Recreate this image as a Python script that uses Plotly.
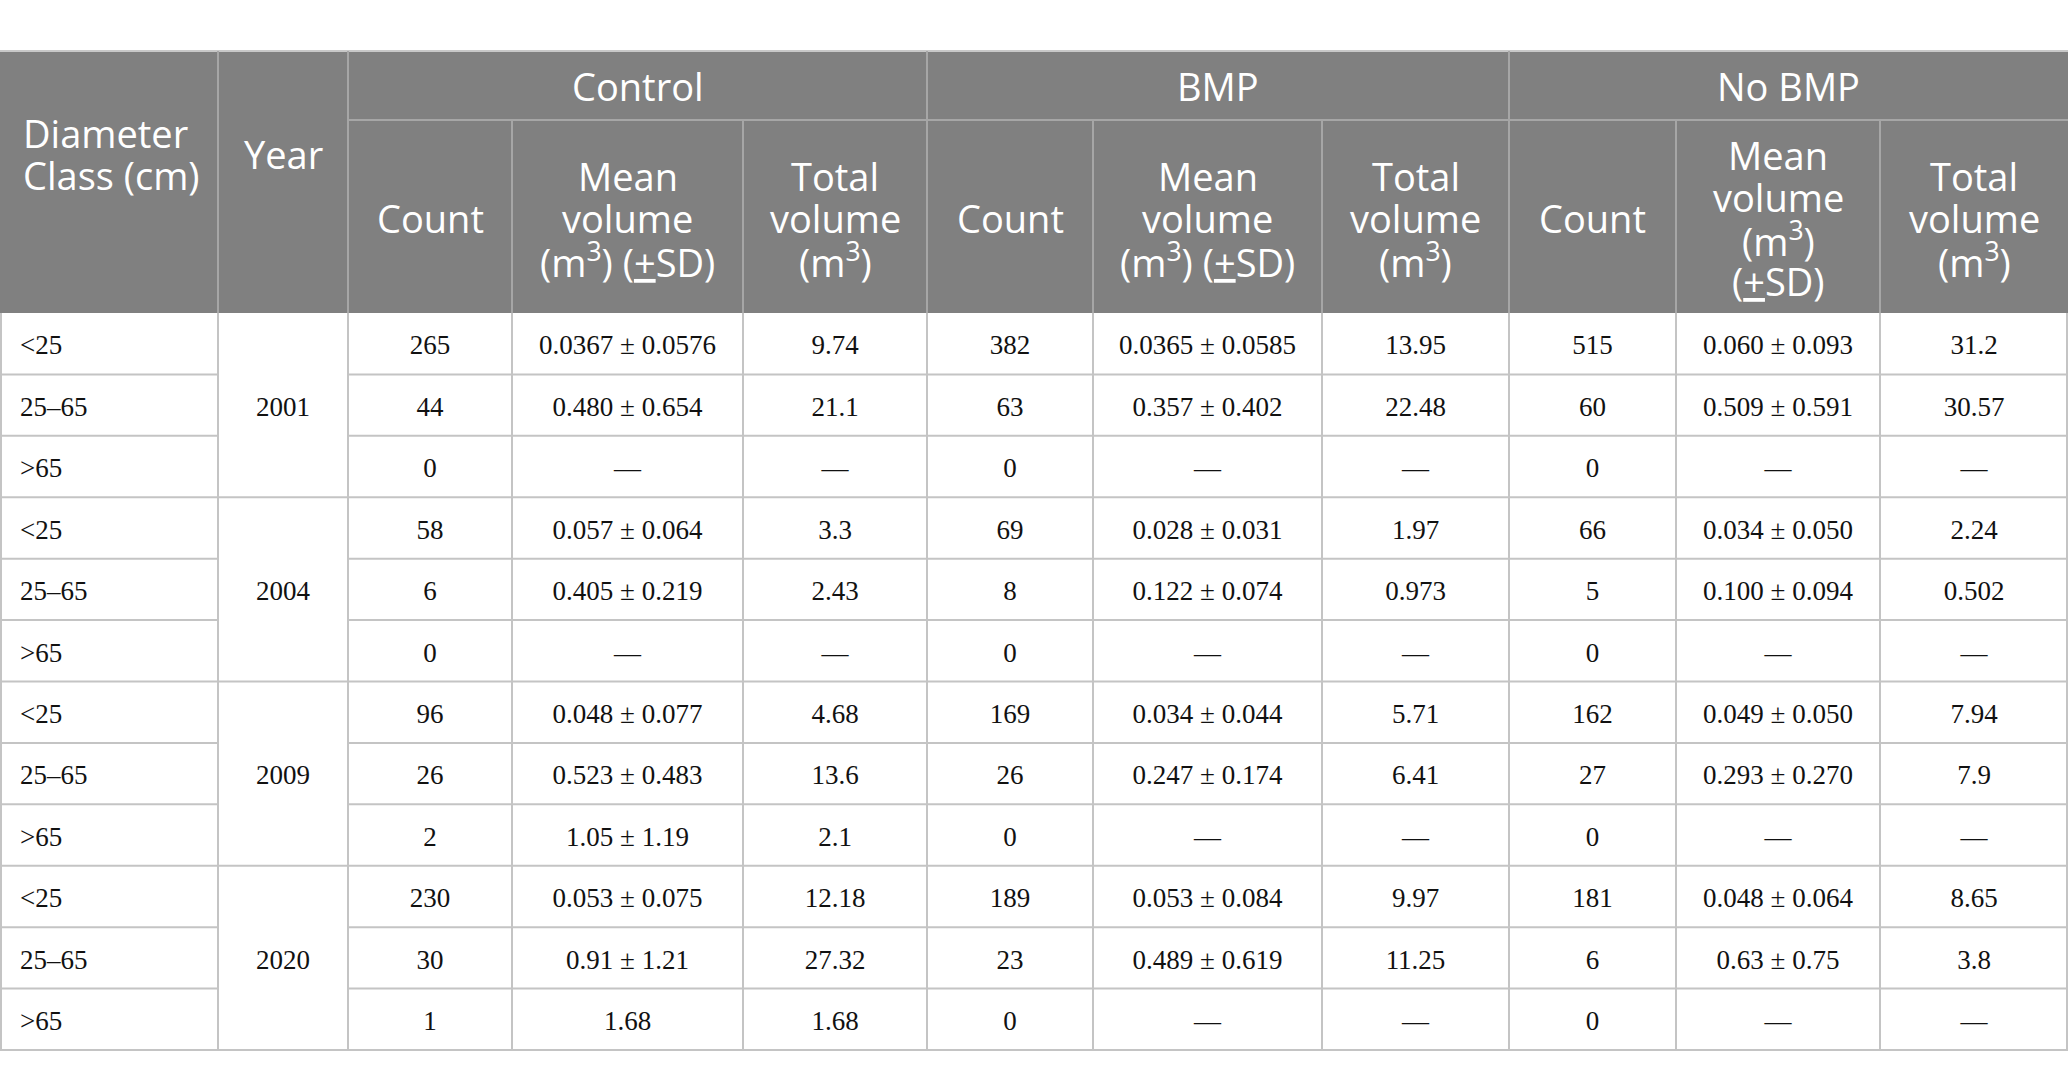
import plotly.graph_objects as go

# DATA
years = ["2001", "2004", "2009", "2020"]
classes = ["<25", "25–65", ">65"] * 4
groups = ["Control", "BMP", "No BMP"]

control_count = [265, 44, 0, 58, 6, 0, 96, 26, 2, 230, 30, 1]
control_mean = ["0.0367 ± 0.0576", "0.480 ± 0.654", "—", "0.057 ± 0.064", "0.405 ± 0.219", "—",
                "0.048 ± 0.077", "0.523 ± 0.483", "1.05 ± 1.19", "0.053 ± 0.075", "0.91 ± 1.21", "1.68"]
control_total = ["9.74", "21.1", "—", "3.3", "2.43", "—", "4.68", "13.6", "2.1", "12.18", "27.32", "1.68"]

bmp_count = [382, 63, 0, 69, 8, 0, 169, 26, 0, 189, 23, 0]
bmp_mean = ["0.0365 ± 0.0585", "0.357 ± 0.402", "—", "0.028 ± 0.031", "0.122 ± 0.074", "—",
            "0.034 ± 0.044", "0.247 ± 0.174", "—", "0.053 ± 0.084", "0.489 ± 0.619", "—"]
bmp_total = ["13.95", "22.48", "—", "1.97", "0.973", "—", "5.71", "6.41", "—", "9.97", "11.25", "—"]

nobmp_count = [515, 60, 0, 66, 5, 0, 162, 27, 0, 181, 6, 0]
nobmp_mean = ["0.060 ± 0.093", "0.509 ± 0.591", "—", "0.034 ± 0.050", "0.100 ± 0.094", "—",
              "0.049 ± 0.050", "0.293 ± 0.270", "—", "0.048 ± 0.064", "0.63 ± 0.75", "—"]
nobmp_total = ["31.2", "30.57", "—", "2.24", "0.502", "—", "7.94", "7.9", "—", "8.65", "3.8", "—"]

sub_headers = ["Count", "Mean<br>volume<br>(m<sup>3</sup>) (<u>+</u>SD)", "Total<br>volume<br>(m<sup>3</sup>)",
               "Count", "Mean<br>volume<br>(m<sup>3</sup>) (<u>+</u>SD)", "Total<br>volume<br>(m<sup>3</sup>)",
               "Count", "Mean<br>volume<br>(m<sup>3</sup>)<br>(<u>+</u>SD)", "Total<br>volume<br>(m<sup>3</sup>)"]

# LAYOUT CONSTANTS (pixels)
W, H = 2068, 1068
edges = [0, 218, 348, 512, 743, 927, 1093, 1322, 1509, 1676, 1880, 2068]
top, mid, head_bot, bot = 51, 120, 313, 1050
n_rows = len(classes)
rh = (bot - head_bot) / n_rows
LINE_H = 42
TEXT_DY = 4  # scatter text sits a little high; nudge it down

HEAD_BG = "#808080"
HEAD_LINE = "#a6a6a6"
BODY_LINE = "#c4c4c4"
HEAD_FONT = dict(family="Open Sans", size=38, color="white")
BODY_FONT = dict(family="Liberation Serif", size=27, color="#111111")

shapes = []
annotations = []


def line(x0, y0, x1, y1, color):
    shapes.append(dict(type="line", xref="x", yref="y", x0=x0, y0=y0, x1=x1, y1=y1,
                       line=dict(color=color, width=2), layer="above"))


def head_text(x, yc, text, anchor="center"):
    # one annotation per line so the line spacing can be kept tight
    parts = text.split("<br>")
    n = len(parts)
    for k, p in enumerate(parts):
        annotations.append(dict(x=x, y=yc + (k - (n - 1) / 2) * LINE_H, text=p, showarrow=False,
                                xanchor=anchor, yanchor="middle", font=HEAD_FONT))


# header background
shapes.append(dict(type="rect", xref="x", yref="y", x0=0, x1=W, y0=top, y1=head_bot,
                   fillcolor=HEAD_BG, line=dict(width=0), layer="below"))

# header borders
line(0, top, W, top, "#c8c8c8")
line(edges[2], mid, W, mid, HEAD_LINE)
for i in [1, 2, 5, 8]:
    line(edges[i], top, edges[i], head_bot, HEAD_LINE)
for i in [3, 4, 6, 7, 9, 10]:
    line(edges[i], mid, edges[i], head_bot, HEAD_LINE)

# body borders
for r in range(1, n_rows):
    y = head_bot + r * rh
    if r % 3 == 0:
        line(0, y, W, y, BODY_LINE)
    else:
        line(edges[0], y, edges[1], y, BODY_LINE)
        line(edges[2], y, W, y, BODY_LINE)
line(0, bot, W, bot, BODY_LINE)
for x in edges[1:-1]:
    line(x, head_bot, x, bot, BODY_LINE)
line(1, head_bot, 1, bot, BODY_LINE)
line(W - 1, head_bot, W - 1, bot, BODY_LINE)

# header texts
head_text(21, 154, "Diameter<br>Class (cm)", anchor="left")
head_text((edges[1] + edges[2]) / 2, 154, "Year")
for g, name in enumerate(groups):
    x0, x1 = edges[2 + 3 * g], edges[5 + 3 * g]
    head_text((x0 + x1) / 2, 86, name)
for j, txt in enumerate(sub_headers):
    x0, x1 = edges[2 + j], edges[3 + j]
    head_text((x0 + x1) / 2, 218, txt)

fig = go.Figure()

row_y = [head_bot + (r + 0.5) * rh + TEXT_DY for r in range(n_rows)]

# first column, left aligned
fig.add_trace(go.Scatter(x=[20] * n_rows, y=row_y, text=classes, mode="text",
                         textposition="middle right", textfont=BODY_FONT, hoverinfo="skip"))

# year column, merged over three rows
year_y = [head_bot + (3 * k + 1.5) * rh + TEXT_DY for k in range(len(years))]
fig.add_trace(go.Scatter(x=[(edges[1] + edges[2]) / 2] * len(years), y=year_y, text=years,
                         mode="text", textposition="middle center", textfont=BODY_FONT,
                         hoverinfo="skip"))

columns = [control_count, control_mean, control_total,
           bmp_count, bmp_mean, bmp_total,
           nobmp_count, nobmp_mean, nobmp_total]
for j, col in enumerate(columns):
    xc = (edges[2 + j] + edges[3 + j]) / 2
    fig.add_trace(go.Scatter(x=[xc] * n_rows, y=row_y, text=[str(v) for v in col], mode="text",
                             textposition="middle center", textfont=BODY_FONT, hoverinfo="skip"))

fig.update_layout(
    width=W, height=H,
    margin=dict(l=0, r=0, t=0, b=0),
    paper_bgcolor="white", plot_bgcolor="white",
    showlegend=False,
    shapes=shapes, annotations=annotations,
    xaxis=dict(range=[0, W], visible=False, fixedrange=True),
    yaxis=dict(range=[H, 0], visible=False, fixedrange=True),
)

fig.write_html("out.html", config={"displayModeBar": False},
               post_script="document.body.style.margin='0';")
